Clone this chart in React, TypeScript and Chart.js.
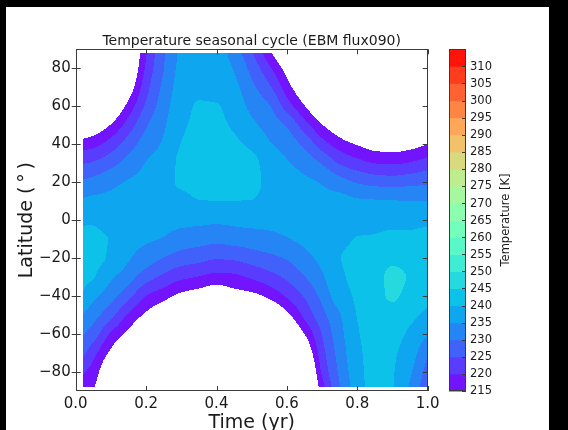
import React, { useEffect, useRef } from "react";
import { Chart, registerables } from "chart.js";

Chart.register(...registerables);

// model output grid: time (yr) columns and latitude rows
const times = [0.02, 0.05, 0.1, 0.15, 0.2, 0.25, 0.3, 0.35, 0.4, 0.45, 0.5, 0.55, 0.6, 0.65, 0.7, 0.75, 0.8, 0.85, 0.9, 0.95, 1.0];
const latitudes = [-88, -80, -70, -60, -50, -40, -30, -20, -10, 0, 10, 20, 30, 40, 50, 60, 70, 80, 88];

// temperature (K) at each latitude, one value per time column
const tempS88 = [217.5, 215.4, 204, 199, 197, 195, 194, 193, 192, 193, 194, 196, 198, 202, 218, 229.8, 237.5, 241.8, 240.2, 234.3, 226];
const tempS80 = [220.6, 217.8, 208, 202, 199, 196, 195, 194, 193, 194, 195, 197, 199, 204, 220.8, 230.9, 238.1, 241.8, 240.3, 235.7, 228];
const tempS70 = [226.3, 221.7, 213.7, 207, 203, 199, 198, 197, 196, 197, 198, 199, 202, 209, 223, 232.1, 238.8, 241.7, 240.6, 237.4, 230.5];
const tempS60 = [230.4, 227.5, 219.2, 213.5, 208, 204, 202, 201, 199, 201, 202, 203, 207, 215, 225.2, 233.3, 239.5, 242, 241.5, 239.1, 235.4];
const tempS50 = [234.6, 231.9, 226.6, 219.2, 214, 210, 207, 206, 204, 206, 207, 208.5, 213.6, 221.3, 228.4, 234.6, 240.2, 242.5, 243, 241.2, 238.8];
const tempS40 = [239.6, 236.2, 231.9, 226.5, 219.9, 216.8, 213.6, 212, 210.3, 212.5, 213.5, 216.2, 220.6, 225.4, 231.4, 238, 240.7, 243.2, 245.6, 243.3, 241.2];
const tempS30 = [240.9, 240.2, 235.8, 232, 227.2, 223.8, 221.1, 219.7, 218.2, 218.8, 220.7, 223.1, 225.9, 229.8, 234.3, 239.3, 241, 243, 246.2, 244.5, 242];
const tempS20 = [241.3, 240.8, 239.5, 235.5, 232.6, 229.8, 227.6, 226.6, 225.4, 225.8, 227.3, 228.7, 230.4, 233.5, 236.3, 239.9, 240.8, 241.8, 243.8, 242.8, 242];
const tempS10 = [240.8, 240.6, 239.8, 236.9, 235.6, 234.7, 232.8, 232, 231.3, 232, 232.6, 233.6, 234.7, 236.2, 238, 239, 240.2, 240.5, 241.5, 241, 241.2];
const tempEq = [239.5, 239.6, 238.3, 238.5, 237, 236.4, 236.3, 236.2, 235.9, 236.3, 236.6, 236.3, 236.9, 238.6, 238.5, 237.3, 238, 238.2, 238.4, 238.7, 239.2];
const tempN10 = [235.7, 236.3, 236.4, 237, 238, 238.5, 238.8, 239.85, 239.95, 239.95, 239.85, 238.1, 239, 237.9, 236.6, 236.5, 235.6, 235.4, 235.2, 235.1, 235];
const tempN20 = [230.8, 231.6, 233.7, 235.4, 236.5, 238.8, 240.5, 241.2, 241.6, 241.2, 241.3, 238.6, 237.3, 236, 234.6, 232, 229.6, 228.3, 227.8, 228.5, 229.1];
const tempN30 = [224.7, 225.6, 228.3, 232, 235.2, 237.2, 241, 242, 242.4, 241.8, 241.2, 237.8, 235.5, 233.1, 229.6, 224.6, 221.9, 219.9, 219.5, 220.4, 222.5];
const tempN40 = [217.3, 218.5, 222.3, 227.5, 232.5, 235.7, 240.1, 241.5, 241.8, 240.8, 239, 235.5, 232.9, 228.8, 222.3, 217.5, 214.6, 212.5, 212, 213, 215];
const tempN50 = [209, 210.6, 215.4, 222.4, 229.4, 234.3, 239.3, 240.7, 240.8, 239.4, 236.2, 233, 229.5, 222.1, 215.3, 210.6, 207, 206, 206, 207, 208.5];
const tempN60 = [201, 203, 208, 216.9, 225.9, 232.8, 238.3, 240.3, 240.2, 237.9, 233.6, 230.3, 222.7, 215.3, 208.5, 204, 202, 201, 201, 202, 204];
const tempN70 = [195, 197, 201, 211.2, 223.2, 231.3, 237.3, 239.2, 238.8, 236.3, 231.2, 225.9, 217.3, 209.5, 203, 200, 198, 197, 197, 198, 200];
const tempN80 = [190, 192, 196, 207, 220.9, 229.9, 236.5, 238.8, 238, 234.6, 228.3, 221, 212.5, 204, 199, 197, 196, 195, 195, 196, 198];
const tempN88 = [188, 190, 194, 205, 219.6, 229.3, 236, 238.5, 237.5, 232.7, 225.5, 216.3, 207.5, 200, 197, 196, 195, 194, 194, 195, 197];

const contourLevels = [215, 220, 225, 230, 235, 240, 245, 250, 255, 260, 265, 270, 275, 280, 285, 290, 295, 300, 305, 310, 315];
const colorbarTicks = [215, 220, 225, 230, 235, 240, 245, 250, 255, 260, 265, 270, 275, 280, 285, 290, 295, 300, 305, 310];
const xTicks = [0, 0.2, 0.4, 0.6, 0.8, 1.0];
const xTickLabels = ["0.0", "0.2", "0.4", "0.6", "0.8", "1.0"];
const yTicks = [-80, -60, -40, -20, 0, 20, 40, 60, 80];
const yTickLabels = ["\u221280", "\u221260", "\u221240", "\u221220", "0", "20", "40", "60", "80"];

const titleText = "Temperature seasonal cycle (EBM flux090)";
const xTitle = "Time (yr)";
const yTitle = "Latitude (\u2009\u00b0\u2009)";
const cbTitle = "Temperature [K]";

const grid = [tempS88, tempS80, tempS70, tempS60, tempS50, tempS40, tempS30, tempS20, tempS10, tempEq,
  tempN10, tempN20, tempN30, tempN40, tempN50, tempN60, tempN70, tempN80, tempN88];

const FONT = "'DejaVu Sans', sans-serif";
const TEXT = "#1a1a1a";
const SPINE = "#3a3a3a";

function rainbow(x: number): number[] {
  const r = Math.abs(2 * x - 0.5);
  const g = Math.sin(Math.PI * x);
  const b = Math.cos((Math.PI * x) / 2);
  return [r, g, b].map((v) => Math.round(Math.max(0, Math.min(1, v)) * 255));
}

const lo = contourLevels[0];
const hi = contourLevels[contourLevels.length - 1];
const bandColors = contourLevels.slice(0, -1).map((l, i) => rainbow(((l + contourLevels[i + 1]) / 2 - lo) / (hi - lo)));

function findIdx(arr: number[], v: number): number {
  let i = 0;
  while (i < arr.length - 2 && v > arr[i + 1]) i++;
  return i;
}

// monotone cubic (PCHIP) slopes on a non-uniform grid
function pchipSlopes(x: number[], y: number[]): number[] {
  const n = x.length;
  const h: number[] = [];
  const d: number[] = [];
  for (let k = 0; k < n - 1; k++) {
    h.push(x[k + 1] - x[k]);
    d.push((y[k + 1] - y[k]) / h[k]);
  }
  const m = new Array(n).fill(0);
  m[0] = d[0];
  m[n - 1] = d[n - 2];
  for (let k = 1; k < n - 1; k++) {
    if (d[k - 1] * d[k] <= 0) m[k] = 0;
    else {
      const w1 = 2 * h[k] + h[k - 1];
      const w2 = h[k] + 2 * h[k - 1];
      m[k] = (w1 + w2) / (w1 / d[k - 1] + w2 / d[k]);
    }
  }
  return m;
}

function hermite(x: number[], y: number[], m: number[], v: number): number {
  const k = findIdx(x, v);
  const h = x[k + 1] - x[k];
  const t = (v - x[k]) / h;
  const t2 = t * t, t3 = t2 * t;
  return (2 * t3 - 3 * t2 + 1) * y[k] + (t3 - 2 * t2 + t) * h * m[k] + (-2 * t3 + 3 * t2) * y[k + 1] + (t3 - t2) * h * m[k + 1];
}

function bandOf(v: number): number {
  for (let k = 0; k < contourLevels.length - 1; k++) {
    if (v >= contourLevels[k] && v < contourLevels[k + 1]) return k;
  }
  return -1;
}

const framePlugin = {
  id: "frame",
  beforeDraw(chart: any) {
    const { ctx, width, height } = chart;
    ctx.save();
    ctx.fillStyle = "#000";
    ctx.fillRect(0, 0, width, height);
    ctx.fillStyle = "#fff";
    ctx.fillRect(6, 7, 543, height - 7);
    ctx.restore();
  },
};

const fieldPlugin = {
  id: "field",
  beforeDatasetsDraw(chart: any) {
    const { ctx, chartArea: a, scales } = chart;
    const xs = scales.x;
    const ys = scales.y;
    const x0 = Math.round(a.left);
    const y0 = Math.round(a.top);
    const w = Math.round(a.right) - x0;
    const h = Math.round(a.bottom) - y0;
    const off = document.createElement("canvas");
    off.width = w;
    off.height = h;
    const octx = off.getContext("2d")!;
    const img = octx.createImageData(w, h);
    const tMin = times[0], tMax = times[times.length - 1];
    const latMin = latitudes[0], latMax = latitudes[latitudes.length - 1];
    const rowSlopes = grid.map((row) => pchipSlopes(times, row));
    const lats: number[] = [];
    for (let py = 0; py < h; py++) lats.push(ys.getValueForPixel(y0 + py + 0.5));
    for (let px = 0; px < w; px++) {
      const t = xs.getValueForPixel(x0 + px + 0.5);
      if (t < tMin || t > tMax) continue;
      const col = grid.map((row, j) => hermite(times, row, rowSlopes[j], t));
      const cm = pchipSlopes(latitudes, col);
      for (let py = 0; py < h; py++) {
        const lat = lats[py];
        if (lat < latMin || lat > latMax) continue;
        const v = hermite(latitudes, col, cm, lat);
        const k = bandOf(v);
        if (k < 0) continue;
        const c = bandColors[k];
        const p = (py * w + px) * 4;
        img.data[p] = c[0];
        img.data[p + 1] = c[1];
        img.data[p + 2] = c[2];
        img.data[p + 3] = 255;
      }
    }
    octx.putImageData(img, 0, 0);
    ctx.drawImage(off, x0, y0);
  },
  afterDraw(chart: any) {
    const { ctx, chartArea: a, scales } = chart;
    const xs = scales.x;
    const ys = scales.y;
    const cb = scales.cb;
    ctx.save();
    ctx.strokeStyle = SPINE;
    ctx.lineWidth = 1;
    ctx.strokeRect(Math.round(a.left) + 0.5, Math.round(a.top) + 0.5, Math.round(a.right) - Math.round(a.left) - 1, Math.round(a.bottom) - Math.round(a.top) - 1);
    ctx.beginPath();
    xTicks.forEach((v) => {
      const x = Math.round(xs.getPixelForValue(v)) + 0.5;
      ctx.moveTo(x, a.bottom);
      ctx.lineTo(x, a.bottom - 5);
      ctx.moveTo(x, a.top);
      ctx.lineTo(x, a.top + 5);
    });
    yTicks.forEach((v) => {
      const y = Math.round(ys.getPixelForValue(v)) + 0.5;
      ctx.moveTo(a.left - 4, y);
      ctx.lineTo(a.left + 5, y);
      ctx.moveTo(a.right, y);
      ctx.lineTo(a.right - 5, y);
    });
    ctx.stroke();

    ctx.fillStyle = TEXT;
    ctx.font = `14px ${FONT}`;
    ctx.textAlign = "center";
    ctx.textBaseline = "alphabetic";
    ctx.fillText(titleText, (a.left + a.right) / 2, a.top - 4);

    ctx.font = `19px ${FONT}`;
    ctx.fillText(xTitle, (a.left + a.right) / 2, a.bottom + 36.5);
    ctx.save();
    ctx.translate(a.left - 43.5, (a.top + a.bottom) / 2);
    ctx.rotate(-Math.PI / 2);
    ctx.fillText(yTitle, 0, 0);
    ctx.restore();

    const cbL = Math.round(a.right + 21.6);
    const cbW = 17;
    for (let k = 0; k < contourLevels.length - 1; k++) {
      const yA = cb.getPixelForValue(contourLevels[k]);
      const yB = cb.getPixelForValue(contourLevels[k + 1]);
      const c = bandColors[k];
      ctx.fillStyle = `rgb(${c[0]},${c[1]},${c[2]})`;
      ctx.fillRect(cbL, Math.min(yA, yB), cbW, Math.abs(yA - yB) + 0.5);
    }
    const cbTop = Math.round(cb.getPixelForValue(hi));
    const cbBot = Math.round(cb.getPixelForValue(lo));
    ctx.strokeStyle = SPINE;
    ctx.strokeRect(cbL + 0.5, cbTop + 0.5, cbW - 1, cbBot - cbTop - 1);
    ctx.beginPath();
    colorbarTicks.forEach((v) => {
      const y = Math.round(cb.getPixelForValue(v)) + 0.5;
      ctx.moveTo(cbL + cbW, y);
      ctx.lineTo(cbL + cbW - 4, y);
    });
    ctx.stroke();
    ctx.fillStyle = TEXT;
    ctx.font = `11.5px ${FONT}`;
    ctx.textAlign = "left";
    ctx.textBaseline = "middle";
    colorbarTicks.forEach((v) => {
      ctx.fillText(String(v), cbL + cbW + 4, cb.getPixelForValue(v) + 0.5);
    });
    ctx.save();
    ctx.translate(cbL + cbW + 43, (cbTop + cbBot) / 2);
    ctx.rotate(-Math.PI / 2);
    ctx.textAlign = "center";
    ctx.textBaseline = "alphabetic";
    ctx.fillText(cbTitle, 0, 0);
    ctx.restore();
    ctx.restore();
  },
};

export default function App() {
  const ref = useRef<HTMLCanvasElement | null>(null);
  useEffect(() => {
    if (!ref.current) return;
    const chart = new Chart(ref.current, {
      type: "scatter",
      data: { datasets: [] },
      options: {
        animation: false,
        responsive: false,
        layout: { padding: { left: 6, top: 49.3, right: 140.3, bottom: 0 } },
        plugins: { legend: { display: false }, tooltip: { enabled: false }, title: { display: false } },
        scales: {
          x: {
            type: "linear",
            position: "bottom",
            min: 0,
            max: 1,
            grid: { display: false, drawTicks: false },
            border: { display: false },
            afterBuildTicks: (s: any) => {
              s.ticks = xTicks.map((v) => ({ value: v }));
            },
            afterFit: (s: any) => {
              s.height = 39;
            },
            ticks: {
              padding: 4,
              color: TEXT,
              font: { family: FONT, size: 15 },
              maxRotation: 0,
              callback: (v: any) => xTickLabels[xTicks.indexOf(Number(v))] ?? "",
            },
          },
          y: {
            type: "linear",
            position: "left",
            min: -90,
            max: 90,
            grid: { display: false, drawTicks: false },
            border: { display: false },
            afterBuildTicks: (s: any) => {
              s.ticks = yTicks.map((v) => ({ value: v }));
            },
            afterFit: (s: any) => {
              s.width = 69.7;
            },
            ticks: {
              padding: 5,
              color: TEXT,
              font: { family: FONT, size: 15 },
              callback: (v: any) => yTickLabels[yTicks.indexOf(Number(v))] ?? "",
            },
          },
          cb: {
            type: "linear",
            axis: "y",
            position: "right",
            display: false,
            min: lo,
            max: hi,
          },
        },
      } as any,
      plugins: [framePlugin, fieldPlugin],
    });
    return () => chart.destroy();
  }, []);
  return (
    <div style={{ position: "fixed", left: 0, top: 0, width: 568, height: 430, background: "#000" }}>
      <canvas ref={ref} width={568} height={430} style={{ display: "block" }} />
    </div>
  );
}
